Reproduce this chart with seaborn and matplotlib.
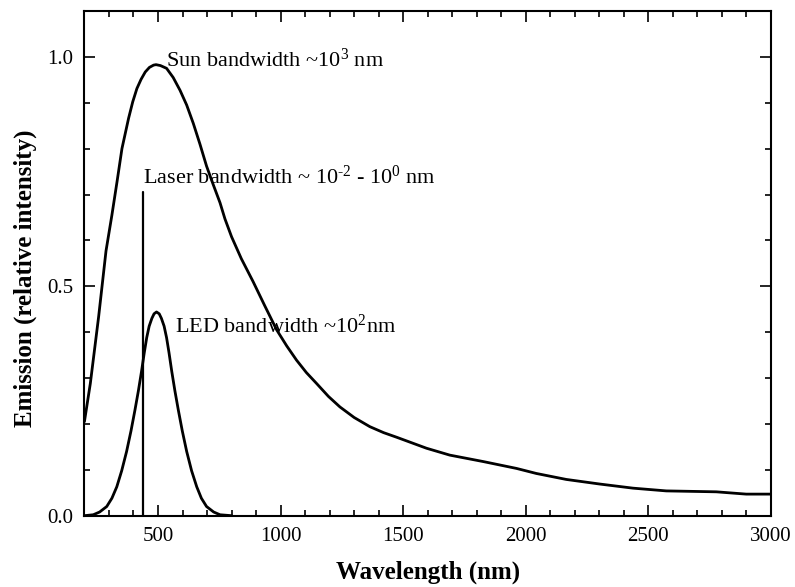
import matplotlib
matplotlib.use("Agg")
import matplotlib.pyplot as plt
from matplotlib.ticker import MultipleLocator
import numpy as np
import pandas as pd
import seaborn as sbn


# -------------------------------------------------------------------------------------------------------
# data
# -------------------------------------------------------------------------------------------------------

# sun spectrum (wavelength nm, relative intensity)
sun_wl = [200, 224, 258, 288, 312, 333, 353, 380, 397, 414, 431, 448, 465, 482, 492, 510, 535, 562,
          590, 617, 644, 671, 698, 725, 753, 773, 800, 840, 888, 935, 984, 1025, 1065, 1105, 1147,
          1195, 1242, 1300, 1364, 1420, 1473, 1595, 1690, 1826, 1962, 2043, 2165, 2301, 2437,
          2573, 2777, 2899, 3000]
sun_em = [0.205, 0.288, 0.434, 0.577, 0.655, 0.728, 0.800, 0.866, 0.902, 0.931, 0.951, 0.967, 0.977,
          0.982, 0.983, 0.981, 0.975, 0.955, 0.927, 0.895, 0.855, 0.810, 0.762, 0.722, 0.682, 0.647,
          0.608, 0.560, 0.510, 0.458, 0.405, 0.370, 0.339, 0.312, 0.288, 0.260, 0.237, 0.214, 0.194,
          0.181, 0.171, 0.147, 0.132, 0.118, 0.103, 0.092, 0.079, 0.069, 0.060, 0.054, 0.052,
          0.047, 0.047]

# LED emission
led_wl = [200, 236, 262, 291, 312, 332, 352, 372, 390, 406, 420, 433, 444, 454, 464, 475, 484, 494,
          505, 514, 525, 535, 545, 556, 569, 583, 599, 617, 637, 658, 677, 698, 727, 753, 800]
led_em = [0.0, 0.002, 0.008, 0.020, 0.038, 0.063, 0.098, 0.140, 0.185, 0.230, 0.272, 0.315, 0.355,
          0.388, 0.413, 0.430, 0.440, 0.444, 0.440, 0.430, 0.413, 0.388, 0.355, 0.315, 0.272, 0.230,
          0.185, 0.140, 0.098, 0.063, 0.038, 0.020, 0.008, 0.002, 0.0]

# laser line
laser_wl = [440, 440]
laser_em = [0.0, 0.705]

x_ticks = [500, 1000, 1500, 2000, 2500, 3000]
y_ticks = [0.0, 0.5, 1.0]

labels = {"sun": r"Sun bandwidth ~10$^{3}$ nm",
          "laser": r"Laser bandwidth ~ 10$^{\text{-}2}$ - 10$^{0}$ nm",
          "led": r"LED bandwidth ~10$^{2}$nm"}


# -------------------------------------------------------------------------------------------------------
# plot
# -------------------------------------------------------------------------------------------------------

sbn.set_theme(style="ticks")
plt.rcParams["font.family"] = ["Liberation Serif", "DejaVu Serif"]
plt.rcParams["mathtext.fontset"] = "custom"
plt.rcParams["mathtext.rm"] = "Liberation Serif"
plt.rcParams["mathtext.it"] = "Liberation Serif:italic"
plt.rcParams["mathtext.bf"] = "Liberation Serif:bold"
for k in ["text.color", "axes.labelcolor", "xtick.color", "ytick.color", "axes.edgecolor"]:
    plt.rcParams[k] = "black"

fig = plt.figure(figsize=(7.95, 5.87), dpi=100)
ax = fig.add_axes([0.1062, 0.1215, 0.8636, 0.8598])

sun = pd.DataFrame({"wl": sun_wl, "em": sun_em})
led = pd.DataFrame({"wl": led_wl, "em": led_em})
laser = pd.DataFrame({"wl": laser_wl, "em": laser_em})

for df in [sun, led]:
    sbn.lineplot(data=df, x="wl", y="em", color="black", linewidth=2.0, sort=False,
                 estimator=None, ax=ax)
sbn.lineplot(data=laser, x="wl", y="em", color="black", linewidth=1.6, sort=False,
             estimator=None, ax=ax)

ax.set_xlim(200, 3000)
ax.set_ylim(0, 1.1)
ax.set_xticks(x_ticks)
ax.set_yticks(y_ticks)
ax.set_yticklabels(["%.1f" % v for v in y_ticks])
ax.xaxis.set_minor_locator(MultipleLocator(100))
ax.yaxis.set_minor_locator(MultipleLocator(0.1))

ax.tick_params(which="both", direction="in", top=True, right=True, labelsize=15, width=1.2)
ax.tick_params(which="major", length=8, pad=8)
ax.tick_params(which="minor", length=4)
for s in ax.spines.values():
    s.set_linewidth(1.5)

ax.set_xlabel("Wavelength (nm)", fontsize=18, fontweight="bold", labelpad=11)
ax.set_ylabel("Emission (relative intensity)", fontsize=18, fontweight="bold")
ax.yaxis.set_label_coords(-0.069, 0.47)

# annotations
ax.text(531, 0.978, labels["sun"], fontsize=16, va="baseline", ha="left")
ax.text(438, 0.724, labels["laser"], fontsize=16, va="baseline", ha="left")
ax.text(569, 0.399, labels["led"], fontsize=16, va="baseline", ha="left")

fig.savefig("out.png", dpi=100)
